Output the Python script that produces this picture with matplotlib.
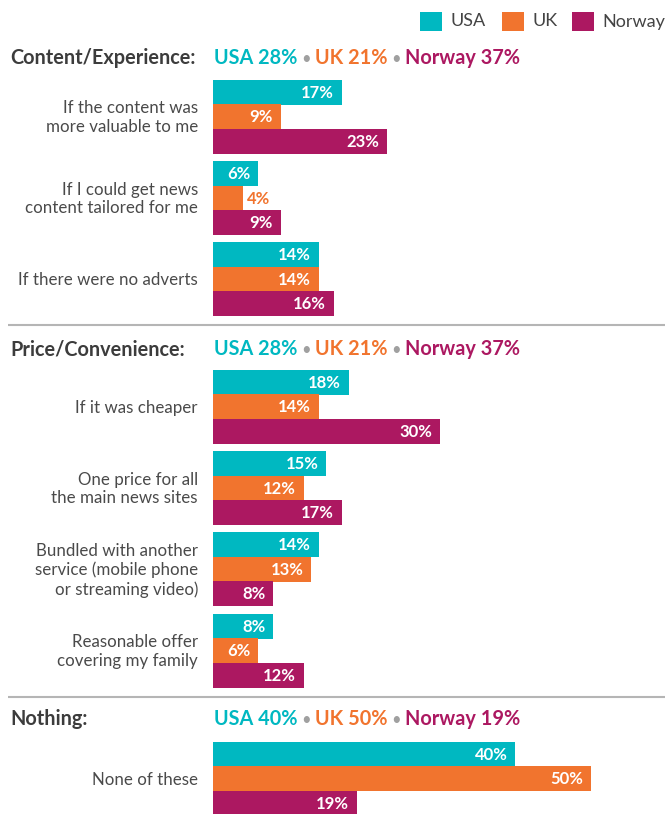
import matplotlib
matplotlib.use("Agg")
import matplotlib.pyplot as plt
from matplotlib.patches import Rectangle

# ---------------- data ----------------
countries = ["USA", "UK", "Norway"]
sections = ["Content/Experience:", "Price/Convenience:", "Nothing:"]
section_usa = [28, 28, 40]
section_uk = [21, 21, 50]
section_norway = [37, 37, 19]

categories = [
    "If the content was\nmore valuable to me",
    "If I could get news\ncontent tailored for me",
    "If there were no adverts",
    "If it was cheaper",
    "One price for all\nthe main news sites",
    "Bundled with another\nservice (mobile phone\nor streaming video)",
    "Reasonable offer\ncovering my family",
    "None of these",
]
category_section = [0, 0, 0, 1, 1, 1, 1, 2]
usa = [17, 6, 14, 18, 15, 14, 8, 40]
uk = [9, 4, 14, 14, 12, 13, 6, 50]
norway = [23, 9, 16, 30, 17, 8, 12, 19]

# ---------------- style ----------------
colors = ["#00B8C1", "#F1742E", "#AC1861"]
text_dark = "#3c3c3c"
label_color = "#4a4a4a"
FONT = "Lato"
plt.rcParams["font.family"] = [FONT, "DejaVu Sans"]

W, H = 667, 814
fig = plt.figure(figsize=(W / 100, H / 100), dpi=100)
ax = fig.add_axes([0, 0, 1, 1])
PPP = 7.56          # pixels per percent
X0 = 213            # pixel where bars start
ax.set_xlim(-X0 / PPP, (W - X0) / PPP)
ax.set_ylim(H, 0)
ax.axis("off")


def px(x):
    return (x - X0) / PPP


# layout (pixels)
header_y = [58, 349, 719]
first_top = [80, 370, 742]
pitch = 81.3
bar_h = 24.5
sep_y = [324.5, 697]

# bars
counter = {0: 0, 1: 0, 2: 0}
series = [usa, uk, norway]
for i, cat in enumerate(categories):
    s = category_section[i]
    top = first_top[s] + counter[s] * pitch
    counter[s] += 1
    for j in range(3):
        yc = top + bar_h * (j + 0.5)
        v = series[j][i]
        ax.barh(yc, v, height=bar_h + 0.4, left=0, color=colors[j], linewidth=0)
        if v < 5:
            ax.text(v + 4 / PPP, yc + 0.5, f"{v}%", ha="left", va="center",
                    color=colors[j], fontsize=12, fontweight="bold")
        else:
            ax.text(v - 8 / PPP, yc + 0.5, f"{v}%", ha="right", va="center",
                    color="white", fontsize=12, fontweight="bold")
    ax.text(px(198), top + 1.5 * bar_h + 1, cat, ha="right", va="center",
            color=label_color, fontsize=12.2, linespacing=1.22)

# separators
for y in sep_y:
    ax.plot([px(8), px(665)], [y, y], color="#b5b5b5", lw=1.5, solid_capstyle="butt")

# section headers
fig.canvas.draw()
renderer = fig.canvas.get_renderer()
summ = [section_usa, section_uk, section_norway]
for s, name in enumerate(sections):
    y = header_y[s]
    ax.text(px(10), y, name, ha="left", va="center", color=text_dark,
            fontsize=14.3, fontweight="bold")
    xcur = 214
    for j in range(3):
        t = ax.text(px(xcur), y, f"{countries[j]} {summ[j][s]}%", ha="left",
                    va="center", color=colors[j], fontsize=14.3, fontweight="bold")
        w = t.get_window_extent(renderer).width
        xcur += w + 4
        if j < 2:
            d = ax.text(px(xcur), y + 1, "•", ha="left", va="center",
                        color="#a0a0a0", fontsize=12)
            xcur += d.get_window_extent(renderer).width + 4

# legend
leg_x = [420, 502, 572]
for j, name in enumerate(countries):
    fig.patches.append(Rectangle((leg_x[j] / W, 1 - 31 / H), 22 / W, 19 / H,
                                 transform=fig.transFigure, color=colors[j],
                                 linewidth=0))
    fig.text((leg_x[j] + 30) / W, 1 - 21.5 / H, name, ha="left", va="center",
             color="#444444", fontsize=13)

fig.savefig("out.png", dpi=100)
